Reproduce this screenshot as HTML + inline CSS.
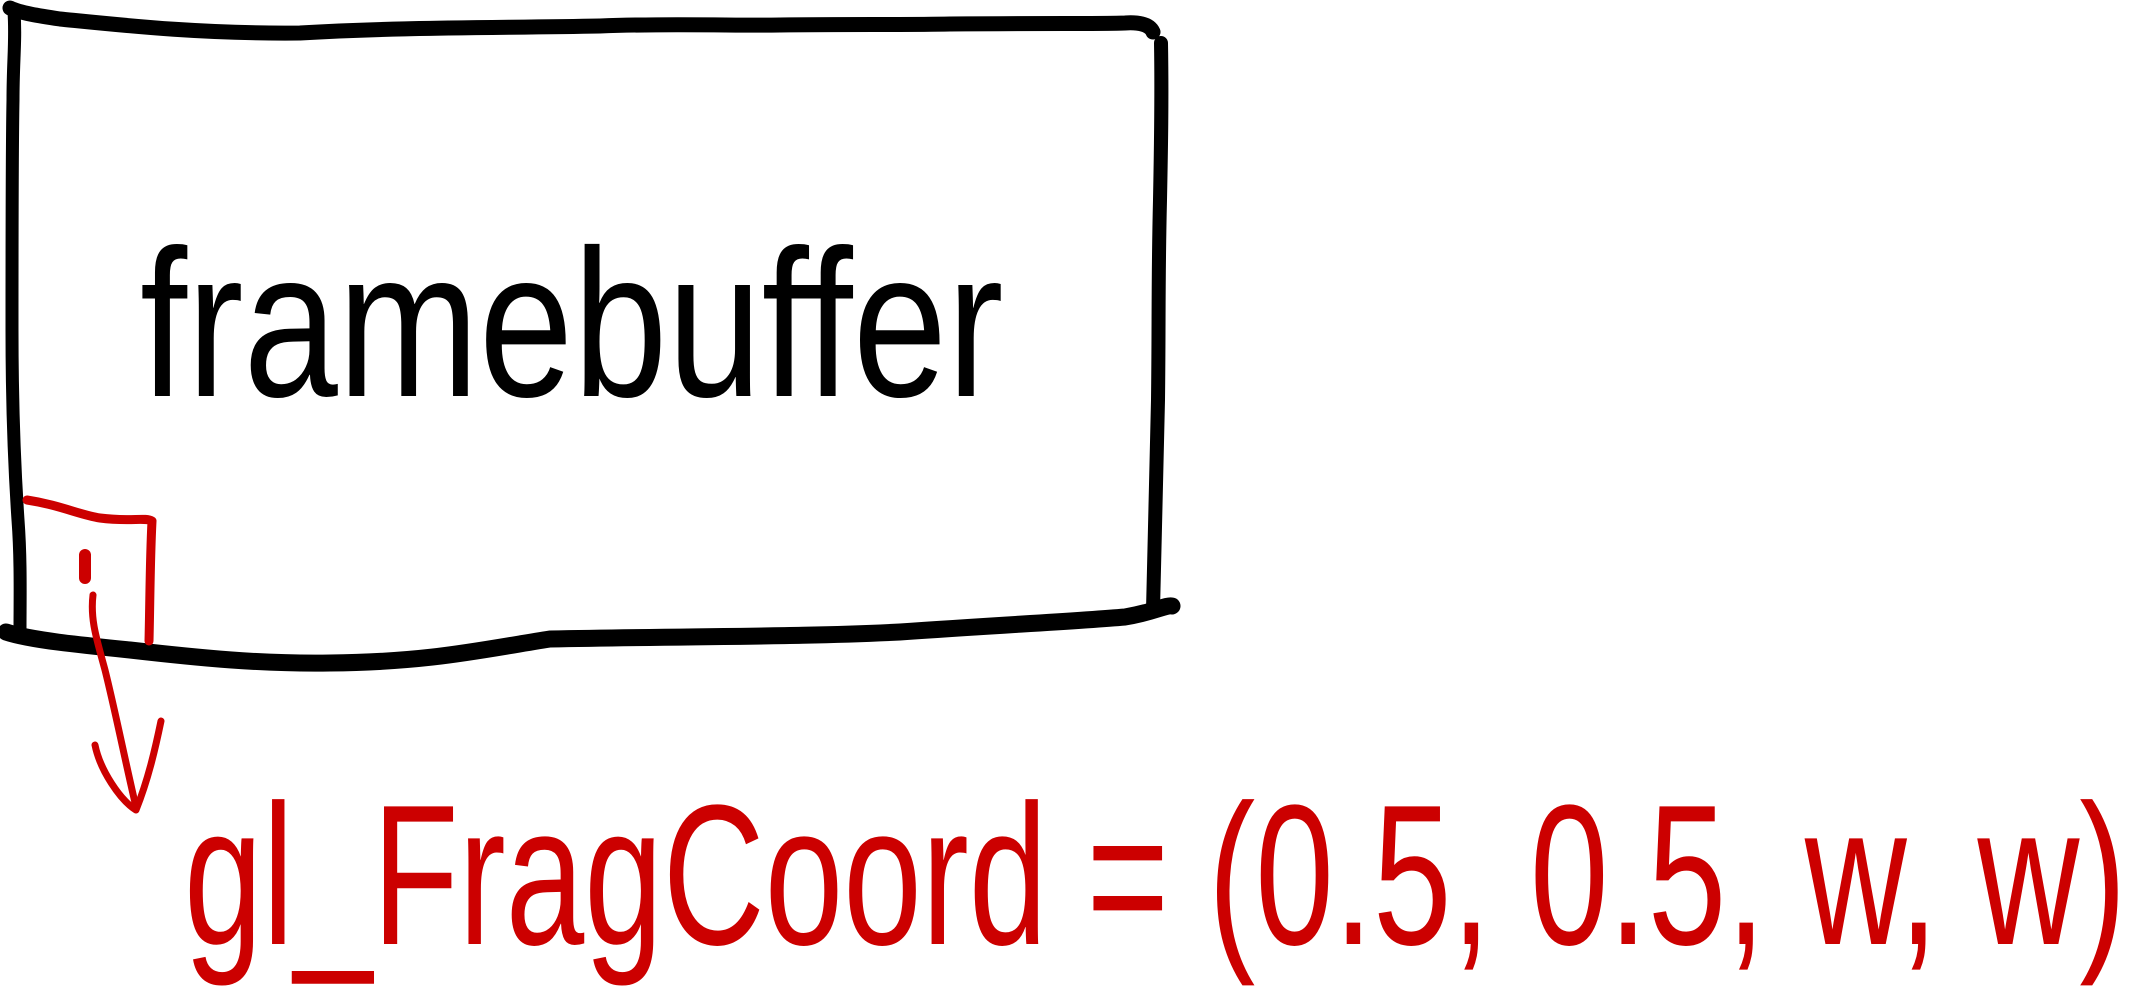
<!DOCTYPE html>
<html><head><meta charset="utf-8"><style>
html,body{margin:0;padding:0;background:#fff;width:2137px;height:1000px;overflow:hidden;position:relative;}
svg{display:block;position:absolute;left:0;top:0;}
.t{position:absolute;white-space:nowrap;line-height:1;font-family:"Liberation Sans",sans-serif;transform-origin:0 0;}
</style></head><body>
<svg width="2137" height="1000" viewBox="0 0 2137 1000">
  <g fill="none" stroke="#000" stroke-width="15" stroke-linecap="round" stroke-linejoin="round">
    <path d="M10 8 C20 13 40 16 60 19 C120 25 200 34 300 33 C400 27 500 28 600 26 C680 23 720 26 780 25 C850 24 900 25 950 24 C1050 23 1100 24 1125 23 C1140 22 1150 25 1153 32"/>
    <path d="M14 12 C16 40 13 60 13 100 C12 150 12 250 12 330 C12 400 14 460 18 520 C21 560 20 600 20 630" stroke-width="13"/>
    <path d="M1161 43 C1162 100 1161 150 1160 200 C1158 280 1159 320 1158 400 C1156 460 1155 540 1153 610" stroke-width="14"/>
    <path d="M6 632 C30 640 80 645 130 650 C200 658 260 664 330 663 C430 662 480 650 550 639 C700 636 800 637 900 632 C1000 625 1080 621 1125 617 C1155 612 1165 605 1172 606" stroke-width="17"/>
  </g>
  <g fill="none" stroke="#cc0000" stroke-width="7" stroke-linecap="round" stroke-linejoin="round">
    <path d="M27 500 C60 505 80 515 100 518 C130 522 145 517 152 521 C150 560 150 600 149 641" stroke-width="9"/>
    <path d="M93 595 C90 620 97 640 105 670 C115 710 125 760 136 807"/>
    <path d="M95 745 C100 770 120 800 136 810 C148 780 155 750 161 721"/>
    <path d="M85 555 L85 578" stroke-width="12"/>
  </g>
</svg>
<div class="t" style="left:140px;top:219px;font-size:210px;color:#000;transform:scaleX(0.807);">framebuffer</div>
<div class="t" style="left:184px;top:776px;font-size:200px;color:#cc0000;transform:scaleX(0.706);">gl_FragCoord = (0.5, 0.5, w, w)</div>
</body></html>
